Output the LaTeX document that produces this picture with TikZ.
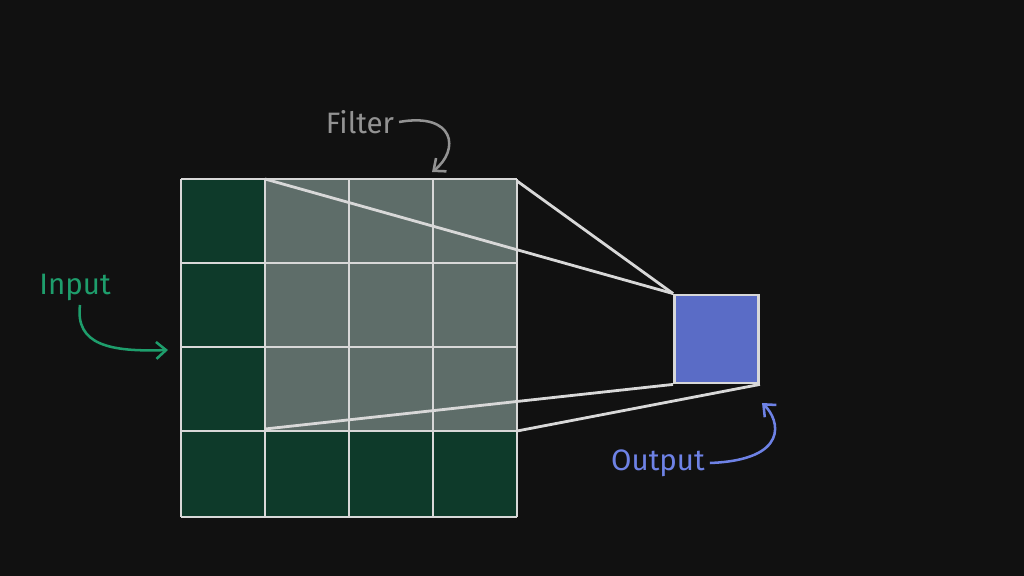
\documentclass[tikz,border=0pt]{standalone}
\usepackage{fontspec}
\setmainfont{Fira Sans}
\usetikzlibrary{arrows.meta}
\definecolor{bg}{HTML}{111111}
\definecolor{cellg}{HTML}{0E3A2A}
\definecolor{filt}{HTML}{5E6D69}
\definecolor{outb}{HTML}{5A6CC6}
\definecolor{ingreen}{HTML}{1E9E6C}
\definecolor{outtxt}{HTML}{6E82E6}
\definecolor{gridc}{HTML}{D8D8D8}
\tikzset{gl/.style={draw=gridc,line width=2pt},
 lab/.style={font=\fontsize{21}{24}\selectfont},
 carrow/.style={line width=1.8pt,-{Straight Barb[length=7pt,width=12pt]}}}
\begin{document}
\begin{tikzpicture}[x=0.025cm,y=-0.025cm]
\fill[bg] (0,0) rectangle (1024,576);
\useasboundingbox (0,0) rectangle (1024,576);
\fill[cellg] (181,179) rectangle (517,517);
\fill[filt] (265,179) rectangle (517,431);
\foreach \x in {181,265,349,433,517} \draw[gl] (\x,179) -- (\x,517);
\foreach \y in {179,263,347,431,517} \draw[gl] (181,\y) -- (517,\y);
\node[fill=outb,draw=gridc,line width=2pt,minimum width=2.1cm,minimum height=2.2cm,inner sep=0] (o) at (716.5,339) {};
\coordinate (ftl) at (265,179); \coordinate (ftr) at (517,181);
\coordinate (fbl) at (265,429); \coordinate (fbr) at (517,431);
\draw[gl] (ftl) -- (o.north west);
\draw[gl] (ftr) -- (o.north west);
\draw[gl] (fbl) -- (o.south west);
\draw[gl] (fbr) -- (o.south east);
\node[lab,text=gray!85] (fl) at (360,122) {Filter};
\coordinate (fa) at (432,172);
\draw[carrow,gray!85] (fl.east) .. controls (455,112) and (460,150) .. (fa);
\node[lab,text=ingreen] (il) at (75,287) {Input};
\coordinate (ia) at (168,350);
\draw[carrow,ingreen] (80,305) .. controls (75,345) and (110,352) .. (ia);
\node[lab,text=outtxt] (ol) at (658,463) {Output};
\coordinate (oa) at (762,403);
\draw[carrow,outtxt] (ol.east) .. controls (790,460) and (780,420) .. (oa);
\end{tikzpicture}
\end{document}
